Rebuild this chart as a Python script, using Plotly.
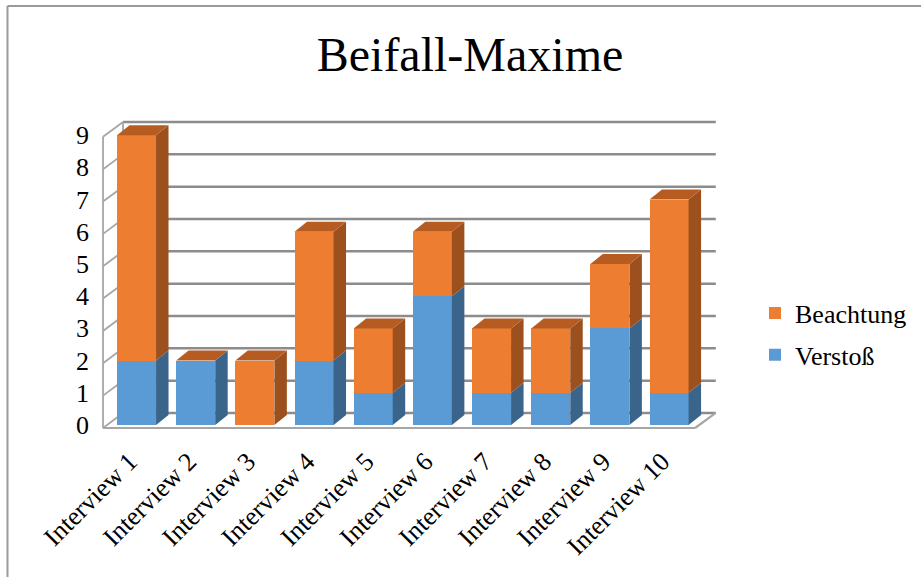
import plotly.graph_objects as go

# ---------------- data ----------------
categories = ["Interview 1", "Interview 2", "Interview 3", "Interview 4", "Interview 5",
              "Interview 6", "Interview 7", "Interview 8", "Interview 9", "Interview 10"]
verstoss = [2, 2, 0, 2, 1, 4, 1, 1, 3, 1]
beachtung = [7, 0, 2, 4, 2, 2, 2, 2, 2, 6]
y_ticks = [0, 1, 2, 3, 4, 5, 6, 7, 8, 9]

# ---------------- style ----------------
FONT = "Liberation Serif"
BLUE = "#5B9BD5"
BLUE_SIDE = "#3A6489"
ORANGE = "#ED7D31"
ORANGE_SIDE = "#9C501E"
ORANGE_TOP = "#B65C22"
GRID = "#8C8C8C"
WALL = "#A6A6A6"

BAR_W = 0.66
DDX, DDY = 0.211, 0.311          # bar depth (data units)
X_FRONT_L, X_BACK_L = -0.566, -0.228
X_FRONT_R, X_BACK_R = 9.44, 9.79
Y_FRONT, Y_BACK = -0.093, 0.373  # floor offsets

idx = list(range(len(categories)))

fig = go.Figure()
fig.add_trace(go.Bar(x=idx, y=verstoss, name="Verstoß", marker=dict(color=BLUE, line=dict(width=0)),
                     width=BAR_W, legendgroup="v", legendrank=2))
fig.add_trace(go.Bar(x=idx, y=beachtung, name="Beachtung", marker=dict(color=ORANGE, line=dict(width=0)),
                     width=BAR_W, legendgroup="b", legendrank=1))

shapes = []

def line(x0, y0, x1, y1, color, width, layer="below"):
    shapes.append(dict(type="line", xref="x", yref="y", x0=x0, y0=y0, x1=x1, y1=y1,
                       line=dict(color=color, width=width), layer=layer))

def poly(pts, color):
    path = "M " + " L ".join(f"{px},{py}" for px, py in pts) + " Z"
    shapes.append(dict(type="path", xref="x", yref="y", path=path, fillcolor=color,
                       line=dict(width=0), layer="above"))

top = y_ticks[-1]

def back_y(v):
    return v * 1.004 + Y_BACK

def front_y(v):
    return v - 0.05 + (Y_FRONT + 0.05) * (1 - v / top)

# back wall gridlines
for v in y_ticks:
    line(X_BACK_L, back_y(v), X_BACK_R, back_y(v), GRID, 2.5)
# left wall
line(X_FRONT_L, front_y(0), X_FRONT_L, front_y(top), WALL, 1.8)
line(X_BACK_L, back_y(0), X_BACK_L, back_y(top), WALL, 1.8)
for v in y_ticks:
    line(X_FRONT_L, front_y(v), X_BACK_L, back_y(v), WALL, 1.8)
# floor
line(X_FRONT_L, Y_FRONT, X_FRONT_R, Y_FRONT, WALL, 2.2)
line(X_FRONT_R, Y_FRONT, X_BACK_R, Y_BACK, WALL, 2.2)

# 3D faces of bars
for i in idx:
    xr = i + BAR_W / 2
    xl = i - BAR_W / 2
    segs = [(0, verstoss[i], BLUE_SIDE), (verstoss[i], verstoss[i] + beachtung[i], ORANGE_SIDE)]
    for y0, y1, c in segs:
        if y1 > y0:
            poly([(xr, y0), (xr + DDX, y0 + DDY), (xr + DDX, y1 + DDY), (xr, y1)], c)
    t = verstoss[i] + beachtung[i]
    poly([(xl, t), (xr, t), (xr + DDX, t + DDY), (xl + DDX, t + DDY)], ORANGE_TOP)

# outer frame (paper coords; plot area is 90..730 px by 100..440 px)
def px2paper_x(p):
    return (p - 90) / 640

def px2paper_y(p):
    return (440 - p) / 340

shapes.append(dict(type="line", xref="paper", yref="paper", x0=px2paper_x(7.5), y0=px2paper_y(6),
                   x1=px2paper_x(7.5), y1=px2paper_y(580), line=dict(color="#9A9A9A", width=2)))
shapes.append(dict(type="line", xref="paper", yref="paper", x0=px2paper_x(7.5), y0=px2paper_y(6),
                   x1=px2paper_x(925), y1=px2paper_y(6), line=dict(color="#9A9A9A", width=2)))

fig.update_layout(
    width=921, height=577,
    margin=dict(l=90, r=191, t=100, b=137, autoexpand=False),
    barmode="stack",
    bargap=0.3,
    paper_bgcolor="white",
    plot_bgcolor="white",
    font=dict(family=FONT, size=26, color="black"),
    title=dict(text="Beifall-Maxime", x=470 / 921, xref="container", xanchor="center",
               y=1 - 54 / 577, yref="container", yanchor="middle",
               font=dict(family=FONT, size=48, color="black")),
    xaxis=dict(range=[-0.786, 10.03], tickvals=idx, ticktext=categories, tickangle=-45,
               showgrid=False, zeroline=False, showline=False, ticks="",
               ticklabelshift=-7, ticklabelstandoff=0, automargin=False,
               tickfont=dict(family=FONT, size=26, color="black")),
    yaxis=dict(range=[-0.466, 10.093], tickvals=y_ticks, showgrid=False, zeroline=False,
               showline=False, ticks="", automargin=False,
               tickfont=dict(family=FONT, size=26, color="black")),
    legend=dict(xref="container", yref="container", x=755 / 921, y=1 - 334 / 577,
                xanchor="left", yanchor="middle",
                traceorder="grouped", tracegroupgap=5,
                font=dict(family=FONT, size=26, color="black"), bgcolor="rgba(0,0,0,0)"),
    shapes=shapes,
    showlegend=True,
)

fig.write_html("out.html")
